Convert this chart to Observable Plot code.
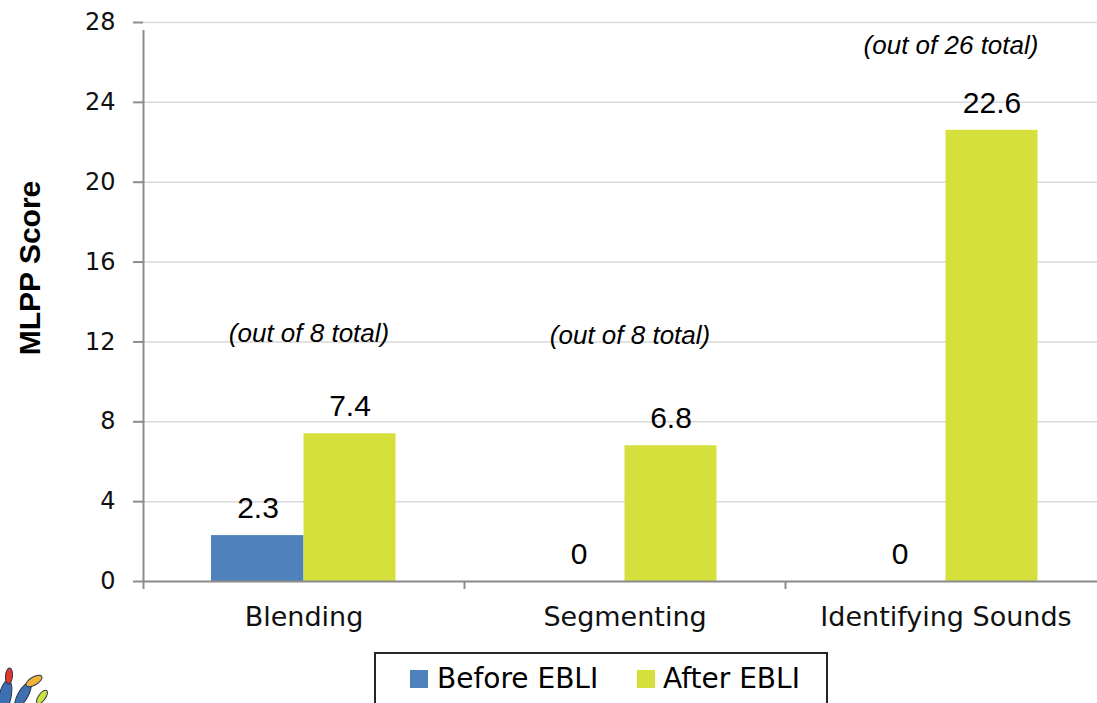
<!DOCTYPE html>
<html><head><meta charset="utf-8">
<script src="https://cdn.jsdelivr.net/npm/d3@7"></script>
<script src="https://cdn.jsdelivr.net/npm/@observablehq/plot@0.6"></script>
<style>
html,body{margin:0;padding:0;background:#fff;overflow:hidden;}
#wrap{position:relative;width:1097px;height:703px;overflow:hidden;background:#fff;}
#chart svg{display:block;max-width:none !important;}
#legend{position:absolute;left:374px;top:652px;width:454px;height:70px;border:2px solid #262626;box-sizing:border-box;font-family:"DejaVu Sans";font-size:28px;color:#000;background:#fff;}
#legend .sw{position:absolute;top:16px;width:18px;height:18px;}
#legend .lb{position:absolute;top:11px;line-height:28px;white-space:nowrap;}
#logo{position:absolute;left:0;top:640px;}
</style></head>
<body>
<div id="wrap"><div id="chart"></div><div id="legend"></div>
<svg id="logo" width="70" height="63" viewBox="0 640 70 63">
  <ellipse cx="5" cy="697" rx="6" ry="17" transform="rotate(12 5 697)" fill="#3d6fb3" stroke="#2a3550" stroke-width="1"/>
  <ellipse cx="9" cy="676" rx="3.5" ry="8" transform="rotate(5 9 676)" fill="#e2392c" stroke="#2a3550" stroke-width="1"/>
  <ellipse cx="23" cy="695" rx="5" ry="14" transform="rotate(30 23 695)" fill="#3d6fb3" stroke="#2a3550" stroke-width="1"/>
  <ellipse cx="34" cy="681" rx="4" ry="9" transform="rotate(60 34 681)" fill="#f2b233" stroke="#2a3550" stroke-width="1"/>
  <ellipse cx="42" cy="697" rx="3.5" ry="8" transform="rotate(35 42 697)" fill="#cfe03a" stroke="#2a3550" stroke-width="1"/>
</svg>
</div>
<script>
const categories = ["Blending", "Segmenting", "Identifying Sounds"];
const series = ["Before EBLI", "After EBLI"];
const beforeValues = [2.3, 0, 0];
const afterValues = [7.4, 6.8, 22.6];
const yTicks = [0, 4, 8, 12, 16, 20, 24, 28];
const notes = ["(out of 8 total)", "(out of 8 total)", "(out of 26 total)"];
const noteValues = [12.4, 12.3, 26.85];
const yLabel = "MLPP Score";
const colors = ["#4F81BD", "#D6E03D"];

const beforeData = categories.map((c, i) => ({category: c, value: beforeValues[i], series: series[0]}));
const afterData = categories.map((c, i) => ({category: c, value: afterValues[i], series: series[1]}));
const noteData = categories.map((c, i) => ({category: c, value: noteValues[i], text: notes[i]}));

const axisGray = "#8c8c8c";
const half = 160.5;

const chart = Plot.plot({
  width: 1106, height: 645,
  marginLeft: 143, marginRight: 0, marginTop: 22, marginBottom: 64,
  style: {fontFamily: "DejaVu Sans", background: "white", color: "#000", overflow: "visible"},
  x: {domain: categories, padding: 0, axis: null},
  y: {domain: [0, 28]},
  color: {domain: series, range: colors},
  marks: [
    Plot.gridY(yTicks, {stroke: "#d9d9d9", strokeOpacity: 1, strokeWidth: 1.5}),
    Plot.barY(beforeData, {x: "category", y: "value", fill: "series", insetLeft: 68, insetRight: half}),
    Plot.barY(afterData, {x: "category", y: "value", fill: "series", insetLeft: half, insetRight: 68.5}),
    Plot.ruleY([0], {stroke: axisGray, strokeWidth: 2}),
    Plot.ruleX(categories, {x: d => d, y1: 0, y2: 0, insetBottom: -8, dx: -half, stroke: axisGray, strokeWidth: 2}),
    Plot.ruleX(categories.slice(0, 1), {x: d => d, y1: 0, y2: 28, insetBottom: -8, dx: -half, stroke: axisGray, strokeWidth: 2}),
    Plot.axisY(yTicks, {tickSize: 10, tickFormat: () => "", stroke: axisGray, strokeWidth: 2, label: null}),
    Plot.text(yTicks, {y: d => d, frameAnchor: "left", textAnchor: "end", dx: -28, fontSize: 24, fill: "#111"}),
    Plot.text(categories, {x: d => d, frameAnchor: "bottom", lineAnchor: "middle", dy: 36, fontSize: 27, fill: "#111"}),
    Plot.text(beforeData, {x: "category", y: "value", text: d => String(d.value), dx: -46, dy: -27, fontSize: 30, fontFamily: "Liberation Sans", fill: "#000"}),
    Plot.text(afterData, {x: "category", y: "value", text: d => String(d.value), dx: 46, dy: -27, fontSize: 30, fontFamily: "Liberation Sans", fill: "#000"}),
    Plot.text(noteData, {x: "category", y: "value", text: "text", dx: 5, fontSize: 26, fontStyle: "italic", fontFamily: "Liberation Sans", fill: "#000"}),
    Plot.text([yLabel], {frameAnchor: "left", textAnchor: "middle", rotate: -90, dx: -113, dy: -34, fontSize: 30, fontWeight: "bold", fontFamily: "Liberation Sans", fill: "#000"})
  ]
});
document.getElementById("chart").appendChild(chart);

const legend = d3.select("#legend");
const swLeft = [34, 261];
const lbLeft = [61, 287];
series.forEach((s, i) => {
  legend.append("div").attr("class", "sw").style("left", swLeft[i] + "px").style("background", chart.scale("color").apply(s));
  legend.append("div").attr("class", "lb").style("left", lbLeft[i] + "px").text(s);
});
</script>
</body></html>
